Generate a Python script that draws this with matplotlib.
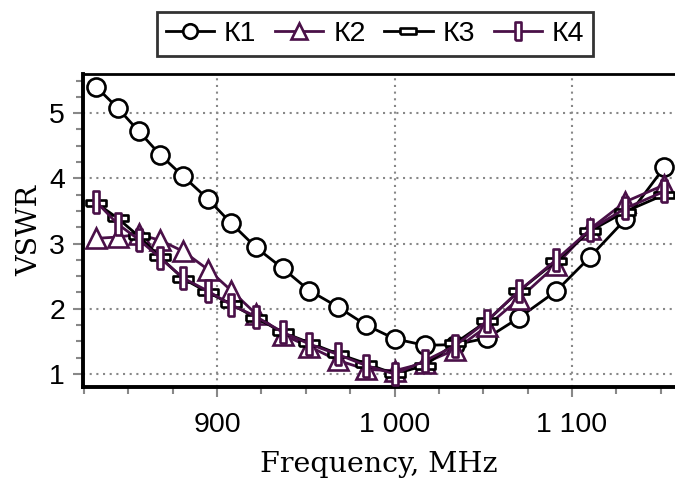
import matplotlib
matplotlib.use("Agg")
import matplotlib.pyplot as plt
from matplotlib.ticker import MultipleLocator, FuncFormatter

freq = [832, 844, 856, 868, 881, 895, 908, 922, 937, 952, 968, 984, 1000,
        1017, 1034, 1052, 1070, 1091, 1110, 1130, 1152]
k1 = [5.40, 5.08, 4.72, 4.36, 4.03, 3.68, 3.31, 2.94, 2.62, 2.28, 2.03, 1.75, 1.54,
      1.44, 1.45, 1.55, 1.86, 2.27, 2.79, 3.37, 4.17]
k2 = [3.08, 3.10, 3.14, 3.05, 2.88, 2.60, 2.28, 1.92, 1.60, 1.42, 1.21, 1.07, 1.05,
      1.17, 1.37, 1.73, 2.15, 2.67, 3.22, 3.64, 3.90]
k3 = [3.62, 3.39, 3.11, 2.79, 2.46, 2.25, 2.07, 1.86, 1.64, 1.48, 1.31, 1.16, 1.00,
      1.13, 1.47, 1.81, 2.27, 2.73, 3.19, 3.49, 3.75]
k4 = [3.64, 3.30, 3.06, 2.78, 2.47, 2.27, 2.06, 1.88, 1.64, 1.46, 1.30, 1.13, 1.00,
      1.20, 1.43, 1.81, 2.27, 2.75, 3.21, 3.54, 3.80]
labels = ["К1", "К2", "К3", "К4"]

purple = "#4a1048"
plt.rcParams['font.family'] = ['Liberation Sans', 'DejaVu Sans']

fig = plt.figure(figsize=(6.75, 4.79), dpi=100)
ax = fig.add_axes([83/675, 0.192, 1 - 83/675, 0.6535])

hrect = [(-1, -0.36), (1, -0.36), (1, 0.36), (-1, 0.36), (-1, -0.36)]
vrect = [(-0.3, -1), (0.3, -1), (0.3, 1), (-0.3, 1), (-0.3, -1)]

ax.plot(freq, k1, color="black", lw=2.0, marker="o", ms=13, mfc="white",
        mec="black", mew=1.9, label=labels[0], zorder=3)
ax.plot(freq, k2, color=purple, lw=2.0, marker="^", ms=15, mfc="white",
        mec=purple, mew=1.9, label=labels[1], zorder=4)
ax.plot(freq, k3, color="black", lw=2.0, marker=hrect, ms=14, mfc="white",
        mec="black", mew=1.9, label=labels[2], zorder=5)
ax.plot(freq, k4, color=purple, lw=2.0, marker=vrect, ms=16, mfc="white",
        mec=purple, mew=1.9, label=labels[3], zorder=6)

ax.set_xlim(824.5, 1158)
ax.set_ylim(0.8, 5.6)
ax.xaxis.set_major_locator(MultipleLocator(100))
ax.xaxis.set_minor_locator(MultipleLocator(25))
ax.yaxis.set_major_locator(MultipleLocator(1))
ax.yaxis.set_minor_locator(MultipleLocator(0.25))
ax.xaxis.set_major_formatter(FuncFormatter(lambda v, p: f"{int(v):,}".replace(",", " ")))
ax.yaxis.set_major_formatter(FuncFormatter(lambda v, p: f"{int(v)}"))

ax.grid(True, which="major", color="#888888", linestyle=(0, (1, 2.2)), lw=1.5)
ax.tick_params(which="major", direction="out", length=7, width=1.5, color="#888888",
               labelsize=20.5, labelcolor="black")
ax.tick_params(axis="x", which="major", pad=11)
ax.tick_params(axis="y", which="major", pad=6)
ax.tick_params(which="minor", direction="out", length=5, width=1.5, color="#888888")

for s in ["left", "bottom"]:
    ax.spines[s].set_linewidth(2.8)
ax.spines["top"].set_linewidth(2.0)
ax.spines["right"].set_visible(False)

ax.set_xlabel("Frequency, MHz", family="DejaVu Serif", fontsize=20.5, labelpad=9.5)
ax.set_ylabel("VSWR", family="DejaVu Serif", fontsize=20.5, labelpad=4)

leg = fig.legend(loc="upper center", bbox_to_anchor=(375/675, 1 - 12/479), ncol=4,
                 fontsize=20.5, frameon=True, fancybox=False, edgecolor="black",
                 handlelength=1.7, handletextpad=0.35, columnspacing=0.65,
                 borderpad=0.32, borderaxespad=0, markerscale=0.8)
leg.get_frame().set_linewidth(2.0)

fig.savefig("out.png", dpi=100)
